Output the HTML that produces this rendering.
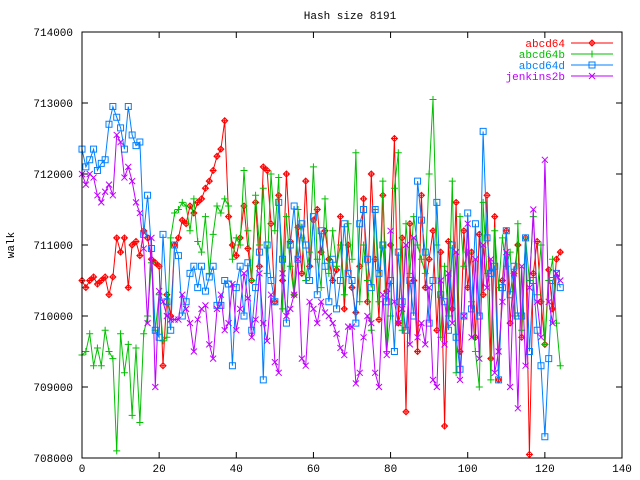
<!DOCTYPE html>
<html><head><meta charset="utf-8">
<style>
html,body{margin:0;padding:0;background:#fff;}
svg{display:block;font-family:"Liberation Mono",monospace;font-size:11px;}
</style></head>
<body>
<svg id="chart" width="640" height="480" viewBox="0 0 640 480" xmlns="http://www.w3.org/2000/svg">
<rect x="0" y="0" width="640" height="480" fill="#fff"/>
<text x="350" y="19" text-anchor="middle">Hash size 8191</text>
<text x="0" y="0" transform="translate(14,245) rotate(-90)" text-anchor="middle">walk</text>
<g id="axes"></g>
<g id="series"></g>
<g id="legend"></g>
<rect x="82" y="32" width="540" height="426" fill="none" stroke="#000" stroke-width="1"/>
</svg>
<script>
const xTicks=[0,20,40,60,80,100,120,140];
const yTicks=[708000,709000,710000,711000,712000,713000,714000];
const seriesNames=["abcd64","abcd64b","abcd64d","jenkins2b"];
const abcd64=[710500,710400,710500,710550,710450,710500,710550,710300,710550,711100,710900,711100,710400,711000,711050,710850,711200,711100,710800,710750,710700,
709300,710300,710000,711000,711100,711350,711300,711550,711450,711600,711650,711800,711900,712050,712250,712350,712750,711400,711000,710850,
711100,711550,710950,710500,711600,710700,712100,712050,711300,710200,711700,710500,712000,711050,710300,711250,710600,711900,710700,711350,
711500,710900,711200,710800,710500,710650,711400,710100,711000,710400,710050,710700,711650,710200,712000,710800,709950,711700,710350,711000,
712500,709900,711100,708650,711300,710500,709500,711700,710400,710800,711200,709800,710900,708450,711050,710100,711600,709500,711200,710400,
710900,709700,711150,710300,711700,709400,711400,709100,710500,711200,709900,710600,711000,709700,711100,708050,710600,711050,710200,709600,710650,710100,710800,710900];
const abcd64b=[709450,709500,709750,709300,709550,709300,709800,709500,709400,708100,
709750,709200,709600,708600,709550,708500,709750,710000,710750,709800,
710300,709650,709700,711100,711450,711500,711600,711550,711200,711650,
711050,710900,711400,710600,711150,711550,711450,711650,711550,710800,
711100,711000,712050,711200,710500,711700,711000,711800,710600,712000,
711200,711950,710100,711400,710700,710300,711500,711100,710500,710900,
712100,710800,710400,711650,710600,711200,710700,711000,710300,711300,
710800,712300,710200,711000,710500,709800,711500,710200,711900,709500,
710000,711800,712300,709800,711300,710600,711400,711000,710800,710600,
712000,713050,711000,709700,710700,710000,711900,709200,711400,710700,
710900,710200,709500,709000,711600,710600,709100,711200,710400,711100,
710700,710900,710000,711300,709800,711100,710500,711400,710300,711000,
709600,710500,710800,709900,709300];
const abcd64d=[712350,712100,712200,712350,712050,712150,712200,712700,712950,712800,
712650,712350,712950,712550,712400,712450,711150,711700,710950,709800,
709700,711150,710200,709800,711000,710850,710000,710200,710600,710700,
710400,710700,710350,710550,710700,710150,710150,710500,710450,709300,
710400,710700,710000,710750,709800,710400,710900,709100,711000,710500,
710200,711600,710800,709900,711000,711550,710800,711300,711000,710500,
711400,710300,711200,710700,710200,710800,710100,710500,711300,710600,
710500,709900,711300,711500,710800,710400,711500,710600,711000,710200,
710500,709500,710900,710200,709800,710500,710000,711900,711350,710900,
709900,710500,711600,710300,710200,709800,711000,709700,709250,710000,
711450,710100,711300,710000,712600,711100,710600,710700,709100,710400,
711200,710300,710700,710000,710000,711100,709500,710500,709800,709300,
708300,709400,710500,710600,710400];
const jenkins2b=[712000,711850,712000,711950,711700,711600,711750,711850,711700,712550,
712450,711950,712100,711900,711600,711450,710950,709900,711100,709000,
710350,710200,710000,709950,709950,709950,710300,710100,709900,709500,
709950,710100,710150,709600,709400,710100,710300,709800,709900,710450,
709800,710100,710600,710250,709700,709950,710600,709900,709650,710300,
709350,709200,710600,710000,710100,710300,710800,709400,709300,710200,
710100,709900,710200,710050,710000,709900,709750,709550,709450,709850,
709850,709050,709200,709700,710000,709900,709200,709000,710300,709450,
711200,710200,709900,710100,711000,709600,711100,709700,709900,709600,
710400,709100,709000,710500,709600,710600,709900,710900,709100,710000,
711300,709700,710800,709400,711000,710400,710800,709200,709500,710200,
710900,709000,710600,708700,710700,709300,710400,711500,710200,709700,
712200,710200,709900,710600,710500];

const NS="http://www.w3.org/2000/svg";
const L=82,R=622,T=32,B=458;
const sx=v=>L+(v-0)/(140-0)*(R-L);
const sy=v=>B-(v-708000)/(714000-708000)*(B-T);
function mk(tag,attrs,parent){const e=document.createElementNS(NS,tag);for(const k in attrs)e.setAttribute(k,attrs[k]);parent.appendChild(e);return e;}
const axes=document.getElementById('axes');
xTicks.forEach(t=>{
  const x=sx(t);
  const a=mk('line',{x1:x,y1:B,x2:x,y2:B-6,stroke:'#000'},axes);
  
  
  const b=mk('line',{x1:x,y1:T,x2:x,y2:T+6,stroke:'#000'},axes);
  
  
  const tx=mk('text',{x:x,y:B+14,'text-anchor':'middle'},axes);
  tx.textContent=t;
  
  
});
yTicks.forEach(t=>{
  const y=sy(t);
  const a=mk('line',{x1:L,y1:y,x2:L+6,y2:y,stroke:'#000'},axes);
  
  
  const b=mk('line',{x1:R,y1:y,x2:R-6,y2:y,stroke:'#000'},axes);
  
  
  const tx=mk('text',{x:L-9,y:y+4,'text-anchor':'end'},axes);
  tx.textContent=t;
  
  
});
const colors=["#ff0000","#00c000","#0080ff","#c000ff"];
const shapes=["diamond","plus","square","cross"];
function marker(shape,x,y,c,g){
  let d;
  if(shape==="diamond")d=`M${x-3},${y}L${x},${y-3}L${x+3},${y}L${x},${y+3}ZM${x-3},${y}H${x+3}M${x},${y-3}V${y+3}`;
  else if(shape==="plus")d=`M${x-3.5},${y}H${x+3.5}M${x},${y-3.5}V${y+3.5}`;
  else if(shape==="square")d=`M${x-3},${y-3}H${x+3}V${y+3}H${x-3}Z`;
  else d=`M${x-3},${y-3}L${x+3},${y+3}M${x-3},${y+3}L${x+3},${y-3}`;
  return mk('path',{d:d,fill:'none',stroke:c,'stroke-width':1},g);
}
const data=[abcd64,abcd64b,abcd64d,jenkins2b];
const sg=document.getElementById('series');
data.forEach((arr,si)=>{
  const g=mk('g',{},sg);
  
  
  const pts=arr.map((v,i)=>sx(i).toFixed(1)+','+sy(v).toFixed(1)).join(' ');
  const pl=mk('polyline',{points:pts,fill:'none',stroke:colors[si],'stroke-width':1},g);
  
  
  arr.forEach((v,i)=>{
    const m=marker(shapes[si],sx(i),sy(v),colors[si],g);
    
    
  });
});
const lg=document.getElementById('legend');
seriesNames.forEach((n,i)=>{
  const y=43+i*11;
  const g=mk('g',{},lg);
  
  
  const t=mk('text',{x:565,y:y+4,'text-anchor':'end',fill:colors[i]},g);
  t.textContent=n;
  
  
  const ln=mk('line',{x1:571,y1:y,x2:613,y2:y,stroke:colors[i]},g);
  
  
  const m=marker(shapes[i],592,y,colors[i],g);
  
  
});
</script>
</body></html>
